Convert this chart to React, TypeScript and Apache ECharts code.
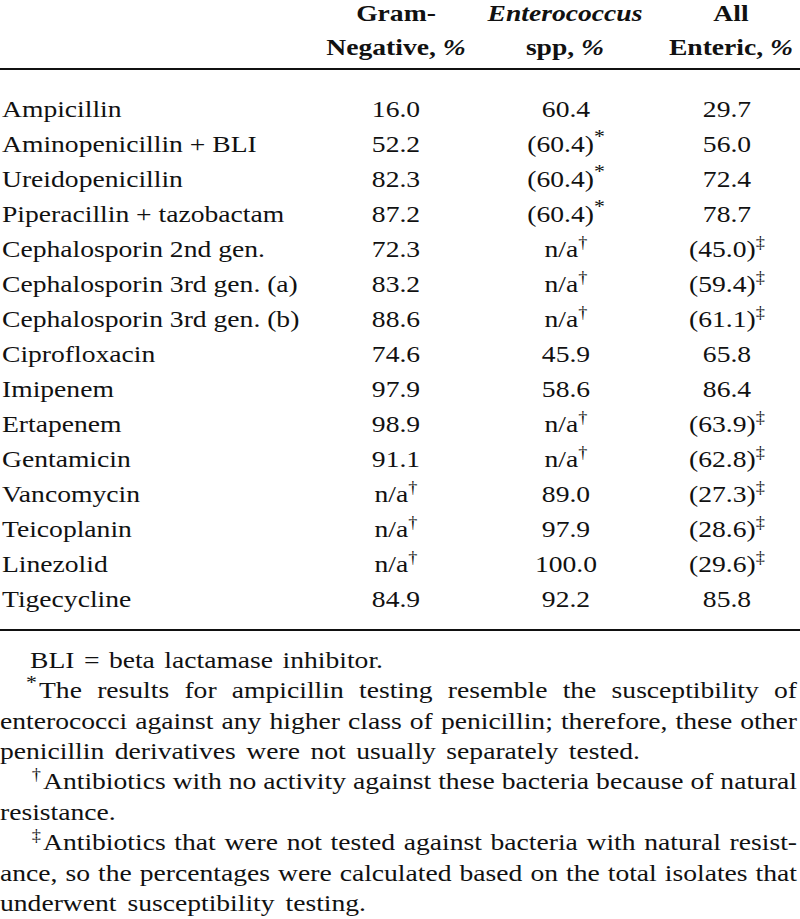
import React, { useEffect, useRef } from "react";
import * as echarts from "echarts";

// ---------- data ----------
const drugs = [
  "Ampicillin",
  "Aminopenicillin + BLI",
  "Ureidopenicillin",
  "Piperacillin + tazobactam",
  "Cephalosporin 2nd gen.",
  "Cephalosporin 3rd gen. (a)",
  "Cephalosporin 3rd gen. (b)",
  "Ciprofloxacin",
  "Imipenem",
  "Ertapenem",
  "Gentamicin",
  "Vancomycin",
  "Teicoplanin",
  "Linezolid",
  "Tigecycline",
];
const gramNegative: (number | null)[] = [16.0, 52.2, 82.3, 87.2, 72.3, 83.2, 88.6, 74.6, 97.9, 98.9, 91.1, null, null, null, 84.9];
const gramNegativeNote = ["", "", "", "", "", "", "", "", "", "", "", "†", "†", "†", ""];
const enterococcus: (number | null)[] = [60.4, 60.4, 60.4, 60.4, null, null, null, 45.9, 58.6, null, null, 89.0, 97.9, 100.0, 92.2];
const enterococcusNote = ["", "*", "*", "*", "†", "†", "†", "", "", "†", "†", "", "", "", ""];
const allEnteric: (number | null)[] = [29.7, 56.0, 72.4, 78.7, 45.0, 59.4, 61.1, 65.8, 86.4, 63.9, 62.8, 27.3, 28.6, 29.6, 85.8];
const allEntericNote = ["", "", "", "", "‡", "‡", "‡", "", "", "‡", "‡", "‡", "‡", "‡", ""];

const headerTop = ["Gram-", "Enterococcus", "All"];
const headerBottom = ["Negative, ", "spp, ", "Enteric, "];
const headerUnit = "%";

const footnoteText = [
  "BLI = beta lactamase inhibitor.",
  "The results for ampicillin testing resemble the susceptibility of",
  "enterococci against any higher class of penicillin; therefore, these other",
  "penicillin derivatives were not usually separately tested.",
  "Antibiotics with no activity against these bacteria because of natural",
  "resistance.",
  "Antibiotics that were not tested against bacteria with natural resist-",
  "ance, so the percentages were calculated based on the total isolates that",
  "underwent susceptibility testing.",
];
const footnoteMark = ["", "*", "", "", "†", "", "‡", "", ""];

// ---------- layout ----------
const FONT = "Liberation Serif";
const INK = "#111111";
const SX = 1.15;
const SIZE = 24;
const SUP = 16;
const STAR = 19;
const colCenters = [396, 566, 727];
const headCenters = [396, 565, 731];
const headBase = [21, 55];
const rowBase0 = 117;
const rowStep = 35;
const topRule = 69;
const bottomRule = 630;
const footBase0 = 668;
const footStep = 30.4;
const footIndent = [30, 39, 0, 0, 43, 0, 43, 0, 0];
const footRight: (number | null)[] = [383, 797, 797, 640, 797, null, 797, 797, 366];

let ctx: CanvasRenderingContext2D | null = null;
function fontPrefix(weight: string, style: string) {
  return (style !== "normal" ? style + " " : "") + (weight !== "normal" ? weight + " " : "");
}
function measure(t: string, size: number, weight = "normal", style = "normal") {
  if (!ctx) ctx = document.createElement("canvas").getContext("2d");
  ctx!.font = `${fontPrefix(weight, style)}${size}px ${FONT}`;
  return ctx!.measureText(t).width * SX;
}
const supSize = (t: string) => (t === "*" ? STAR : SUP);

function textEl(t: string, x: number, base: number, size: number, weight = "normal", style = "normal") {
  const st: any = {
    text: t,
    fontSize: size,
    fontFamily: FONT,
    lineHeight: Math.round(size * 0.8),
    fill: INK,
    align: "left",
    verticalAlign: "middle",
  };
  if (weight !== "normal") st.fontWeight = weight;
  if (style !== "normal") st.fontStyle = style;
  return {
    type: "text",
    x,
    y: base - 0.3375 * size,
    scaleX: SX,
    silent: true,
    style: st,
  };
}

type Seg = { t: string; weight?: string; style?: string; sup?: boolean };

function placeSegs(segs: Seg[], center: number, base: number, size: number) {
  const sizes = segs.map((s) => (s.sup ? supSize(s.t) : size));
  const widths = segs.map((s, i) => measure(s.t, sizes[i], s.weight || "normal", s.style || "normal"));
  const total = widths.reduce((a, b) => a + b, 0);
  let x = center - total / 2;
  const out: any[] = [];
  segs.forEach((s, i) => {
    out.push(textEl(s.t, x, s.sup ? base - 9 : base, sizes[i], s.weight || "normal", s.style || "normal"));
    x += widths[i];
  });
  return out;
}

function cellSegs(v: number | null, note: string): Seg[] {
  if (v === null) return [{ t: "n/a" }, { t: note, sup: true }];
  if (note) return [{ t: "(" + v.toFixed(1) + ")" }, { t: note, sup: true }];
  return [{ t: v.toFixed(1) }];
}

function buildElements() {
  const els: any[] = [];
  // header
  headerTop.forEach((h, i) => {
    els.push(...placeSegs([{ t: h, weight: "bold", style: i === 1 ? "italic" : "normal" }], headCenters[i], headBase[0], SIZE));
    els.push(
      ...placeSegs(
        [
          { t: headerBottom[i], weight: "bold" },
          { t: headerUnit, weight: "bold", style: "italic" },
        ],
        headCenters[i],
        headBase[1],
        SIZE
      )
    );
  });
  els.push({ type: "line", silent: true, shape: { x1: 0, y1: topRule, x2: 800, y2: topRule }, style: { stroke: INK, lineWidth: 2.2 } });
  // body
  const cols = [
    [gramNegative, gramNegativeNote],
    [enterococcus, enterococcusNote],
    [allEnteric, allEntericNote],
  ] as [(number | null)[], string[]][];
  drugs.forEach((d, r) => {
    const base = rowBase0 + r * rowStep;
    els.push(textEl(d, 2, base, SIZE));
    cols.forEach(([vals, notes], c) => {
      els.push(...placeSegs(cellSegs(vals[r], notes[r]), colCenters[c], base, SIZE));
    });
  });
  els.push({ type: "line", silent: true, shape: { x1: 0, y1: bottomRule, x2: 800, y2: bottomRule }, style: { stroke: INK, lineWidth: 2.2 } });
  // footnotes
  footnoteText.forEach((line, i) => {
    const base = footBase0 + i * footStep;
    const left = footIndent[i];
    const mk = footnoteMark[i];
    if (mk) {
      const ms = supSize(mk);
      const mw = measure(mk, ms);
      els.push(textEl(mk, left - mw - 2, base - 9, ms));
    }
    const right = footRight[i];
    if (right === null) {
      els.push(textEl(line, left, base, SIZE));
      return;
    }
    const words = line.split(" ");
    const ws = words.map((w) => measure(w, SIZE));
    const sum = ws.reduce((a, b) => a + b, 0);
    const gap = words.length > 1 ? Math.max(2, (right - left - sum) / (words.length - 1)) : 0;
    let x = left;
    words.forEach((w, k) => {
      els.push(textEl(w, x, base, SIZE));
      x += ws[k] + gap;
    });
  });
  return els;
}

export default function App() {
  const ref = useRef<HTMLDivElement>(null);
  useEffect(() => {
    document.body.style.margin = "0";
    const chart = echarts.init(ref.current!, null, { renderer: "svg" });
    chart.setOption({
      animation: false,
      backgroundColor: "#ffffff",
      graphic: { elements: buildElements() },
    });
    return () => chart.dispose();
  }, []);
  return <div ref={ref} style={{ width: 800, height: 919, background: "#fff" }} />;
}
